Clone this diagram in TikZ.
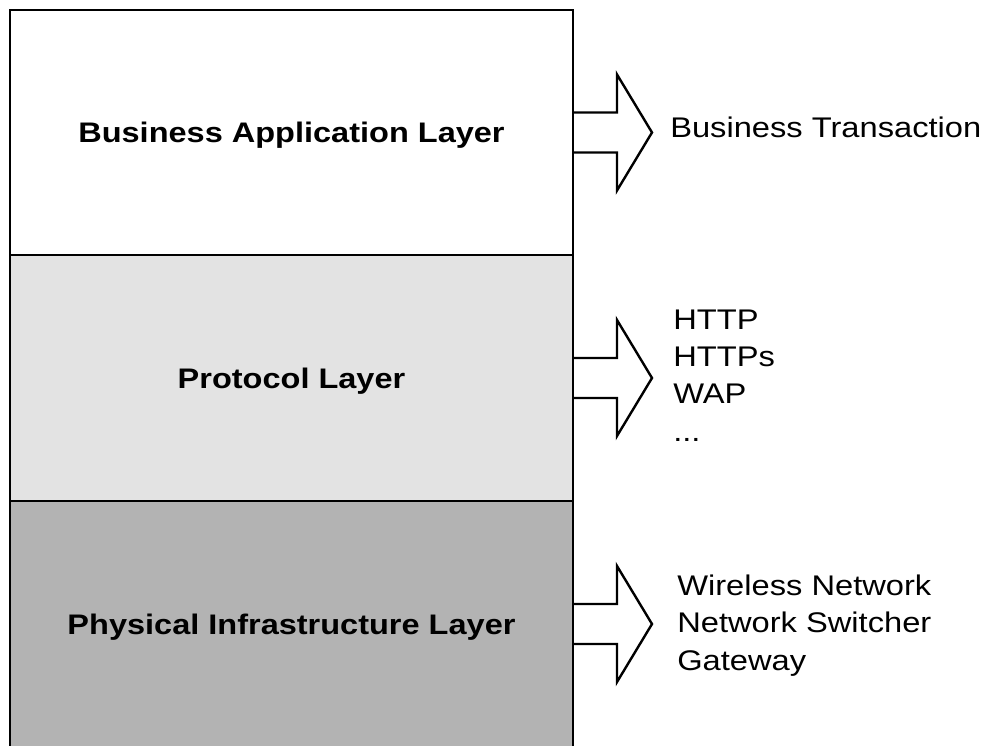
\documentclass[tikz,border=0pt]{standalone}
\usepackage{fontspec}
\setmainfont[FakeStretch=1.15]{Liberation Sans}
\usetikzlibrary{backgrounds}
\begin{document}
\begin{tikzpicture}[x=0.75pt,y=-0.75pt,
  layer/.style={draw=black,line width=2.2pt,minimum width=422.25pt,minimum height=184.5pt,inner sep=0pt,outer sep=0pt,anchor=north west},
  title/.style={font=\fontsize{21.2}{28}\selectfont\bfseries,anchor=base,inner sep=0pt},
  lbl/.style={font=\fontsize{21.3}{28}\selectfont,anchor=base west,align=left,inner sep=0pt},
  flow/.style={draw=black,fill=white,line width=1.8pt,line join=miter}]
\useasboundingbox (0,0) rectangle (987,745);
\clip (0,0) rectangle (987,745);
\node[layer,fill=white,minimum height=183.75pt] (L1) at (10,10) {};
\node[layer,fill={rgb,255:red,227;green,227;blue,227}] (L2) at (10,255) {};
\node[layer,fill={rgb,255:red,179;green,179;blue,179}] (L3) at (10,501) {};
\node[title] (t1) at (291.5,143) {Business Application Layer};
\node[title] (t2) at (291.5,388) {Protocol Layer};
\node[title] (t3) at (291.5,634) {Physical Infrastructure Layer};
\begin{scope}[on background layer]
\foreach \L in {L1,L2,L3}{
  \draw[flow] (\L.east) ++(0,-20) -- ++(44,0) -- ++(0,-38) -- ++(35,58) -- ++(-35,58) -- ++(0,-38) -- ++(-44,0);
}
\end{scope}
\node[lbl] (o1) at (670,138) {Business Transaction};
\node[lbl] (o2) at (673,441) {HTTP\\HTTPs\\WAP\\...};
\node[lbl] (o3) at (677,670) {Wireless Network\\Network Switcher\\Gateway};
\end{tikzpicture}
\end{document}
